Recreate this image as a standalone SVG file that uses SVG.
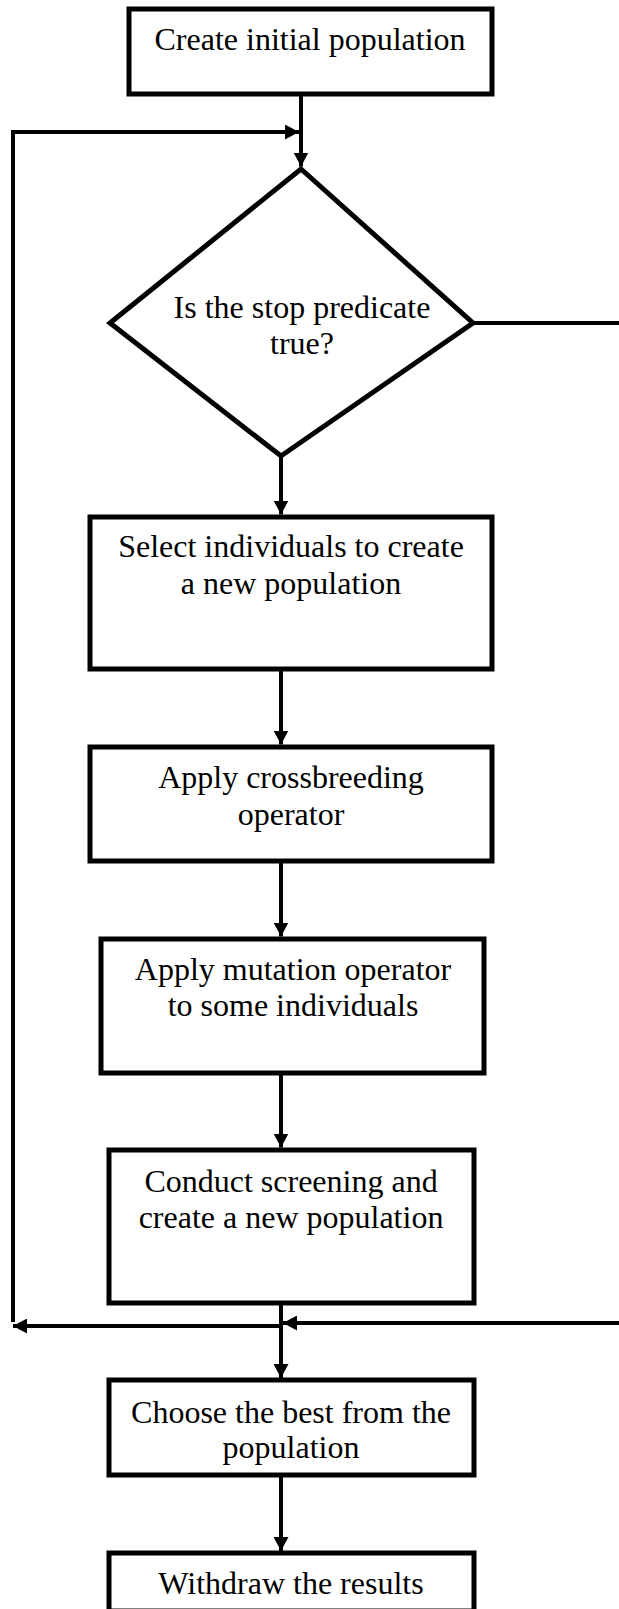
<svg xmlns="http://www.w3.org/2000/svg" width="619" height="1609" viewBox="0 0 619 1609">
<style>
.box{fill:#fff;stroke:#000;stroke-width:5}
.lbl{font-family:"Liberation Serif","Times New Roman",serif;font-size:32px;fill:#000;text-anchor:middle}
.con{fill:none;stroke:#000;stroke-width:4}
</style>
<defs>
<marker id="ah" viewBox="0 0 14 15" refX="14" refY="7.5" markerWidth="14" markerHeight="15" markerUnits="userSpaceOnUse" orient="auto">
<path d="M0,0 L14,7.5 L0,15 z" fill="#000"/>
</marker>
</defs>
<rect width="619" height="1609" fill="#fff"/>
<g id="connectors">
<path class="con" d="M301,94 V166.5" marker-end="url(#ah)"/>
<path class="con" d="M13,1322 V132 H299" marker-end="url(#ah)"/>
<path class="con" d="M473,323 H625 V1323 H283" marker-end="url(#ah)"/>
<path class="con" d="M281,456 V514.5" marker-end="url(#ah)"/>
<path class="con" d="M281,669 V744.5" marker-end="url(#ah)"/>
<path class="con" d="M281,861 V936.5" marker-end="url(#ah)"/>
<path class="con" d="M281,1073 V1147.5" marker-end="url(#ah)"/>
<path class="con" d="M281,1303 V1378" marker-end="url(#ah)"/>
<path class="con" d="M281,1326 H13" marker-end="url(#ah)"/>
<path class="con" d="M281,1475 V1551" marker-end="url(#ah)"/>
</g>
<g id="n1">
<rect class="box" x="129" y="9" width="363" height="85"/>
<text class="lbl" x="310" y="50">Create initial population</text>
</g>
<g id="n2">
<polygon class="box" points="301,169 473,323 281,456 110,323"/>
<text class="lbl" x="302" y="318">Is the stop predicate</text>
<text class="lbl" x="302" y="354">true?</text>
</g>
<g id="n3">
<rect class="box" x="90" y="517" width="402" height="152"/>
<text class="lbl" x="291" y="557">Select individuals to create</text>
<text class="lbl" x="291" y="594">a new population</text>
</g>
<g id="n4">
<rect class="box" x="90" y="747" width="402" height="114"/>
<text class="lbl" x="291" y="788">Apply crossbreeding</text>
<text class="lbl" x="291" y="825">operator</text>
</g>
<g id="n5">
<rect class="box" x="101" y="939" width="383" height="134"/>
<text class="lbl" x="293" y="980">Apply mutation operator</text>
<text class="lbl" x="293" y="1016">to some individuals</text>
</g>
<g id="n6">
<rect class="box" x="109" y="1150" width="365" height="153"/>
<text class="lbl" x="291" y="1192">Conduct screening and</text>
<text class="lbl" x="291" y="1228">create a new population</text>
</g>
<g id="n7">
<rect class="box" x="109" y="1380" width="365" height="95"/>
<text class="lbl" x="291" y="1423">Choose the best from the</text>
<text class="lbl" x="291" y="1458">population</text>
</g>
<g id="n8">
<rect class="box" x="109" y="1553" width="365" height="58"/>
<text class="lbl" x="291" y="1594">Withdraw the results</text>
</g>
</svg>
